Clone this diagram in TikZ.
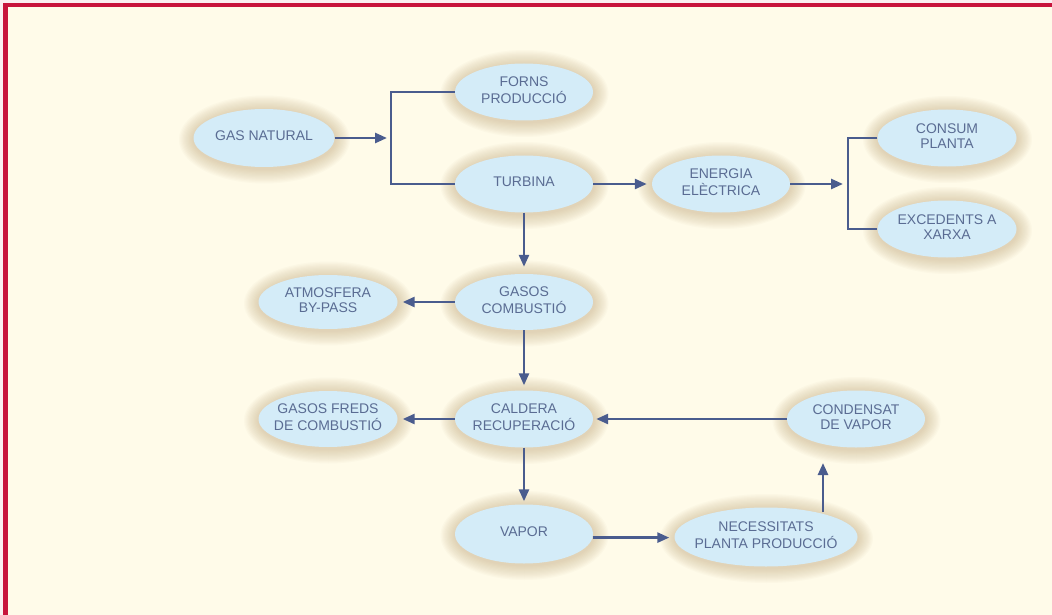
\documentclass[tikz,border=0pt]{standalone}
\usepackage{fontspec}
\setmainfont{Liberation Sans}
\usetikzlibrary{shapes.geometric,arrows.meta,calc}
\definecolor{pagebg}{HTML}{FFFBE9}
\definecolor{redb}{HTML}{C8143C}
\definecolor{outerc}{HTML}{FBEFF1}
\definecolor{linec}{HTML}{4A5C8E}
\definecolor{ellfill}{HTML}{D4ECF8}
\definecolor{txtc}{HTML}{5A6C93}
\definecolor{glowc}{HTML}{BFA67A}
\pgfdeclarelayer{pagelayer}
\pgfdeclarelayer{glowlayer}
\pgfsetlayers{pagelayer,glowlayer,main}
\tikzset{
  ell/.style={ellipse, fill=ellfill, inner sep=0pt, text=txtc, font=\fontsize{14}{14.5}\selectfont},
  ln/.style={draw=linec, line width=2.6pt},
  arr/.style={ln, -{Triangle[length=12pt,width=10pt]}, shorten >=5pt},
}
\newcommand\ellnode[6]{%
  \begin{pgfonlayer}{glowlayer}
    \foreach \k in {1,...,12}{\fill[glowc,opacity=0.045] (#2+0.5,#3+1.5) ellipse [x radius={#4/2+\k*1.25}, y radius={#5/2+\k*1.25}];}
  \end{pgfonlayer}
  \node[ell, minimum width=#4pt, minimum height=#5pt] (#1) at (#2,#3) {\makebox[0pt]{\raisebox{-3pt}{\begin{tabular}{@{}c@{}}#6\end{tabular}}}};}
\begin{document}
\begin{tikzpicture}[x=1pt,y=-1pt]
\useasboundingbox (0,0) rectangle (1052,615);
\begin{pgfonlayer}{pagelayer}
  \fill[outerc] (0,0) rectangle (1052,615);
  \fill[redb] (3,3) rectangle (1052,615);
  \fill[pagebg] (7.5,7.5) rectangle (1052,615);
\end{pgfonlayer}
\ellnode{gas}{264}{138}{141}{58}{GAS NATURAL}
\ellnode{forns}{524}{92}{138}{57}{FORNS\\PRODUCCIÓ}
\ellnode{turb}{524}{184}{138}{57}{TURBINA}
\ellnode{ener}{721}{184}{138}{57}{ENERGIA\\ELÈCTRICA}
\ellnode{consum}{947}{138}{139}{57}{CONSUM\\PLANTA}
\ellnode{exc}{947}{229}{139}{57}{EXCEDENTS A\\XARXA}
\ellnode{gcomb}{524}{302}{138}{56}{GASOS\\COMBUSTIÓ}
\ellnode{atmos}{328}{302}{139}{54}{ATMOSFERA\\BY-PASS}
\ellnode{cald}{524}{419}{138}{57}{CALDERA\\RECUPERACIÓ}
\ellnode{freds}{328}{419}{139}{56}{GASOS FREDS\\DE COMBUSTIÓ}
\ellnode{cond}{856}{419}{138}{57}{CONDENSAT\\DE VAPOR}
\ellnode{vapor}{524}{534}{138}{59}{VAPOR}
\ellnode{nec}{766}{537}{183}{59}{NECESSITATS\\PLANTA PRODUCCIÓ}
\coordinate (b1) at (391,138);
\coordinate (b2) at (848,184);
\coordinate (cup) at (823,463);
\draw[arr, shorten >=4pt] (gas) -- (b1);
\draw[ln] (forns.west) -- (forns.west -| b1) -- (turb.west -| b1) -- (turb.west);
\draw[arr] (turb) -- (ener);
\draw[arr] (ener) -- (b2);
\draw[ln] (consum.west) -- (consum.west -| b2) -- (exc.west -| b2) -- (exc.west);
\draw[arr, shorten >=7pt] (turb) -- (gcomb);
\draw[arr] (gcomb) -- (atmos);
\draw[arr] (gcomb) -- (cald);
\draw[arr] (cald) -- (freds);
\draw[arr, shorten >=3pt] (cond) -- (cald);
\draw[arr, shorten >=3pt] (cald) -- (vapor);
\draw[arr] (vapor.-3) -- (vapor.-3 -| nec.west);
\draw[arr, shorten >=0pt] (cup |- nec.north) ++(0,5) -- (cup);
\end{tikzpicture}
\end{document}
